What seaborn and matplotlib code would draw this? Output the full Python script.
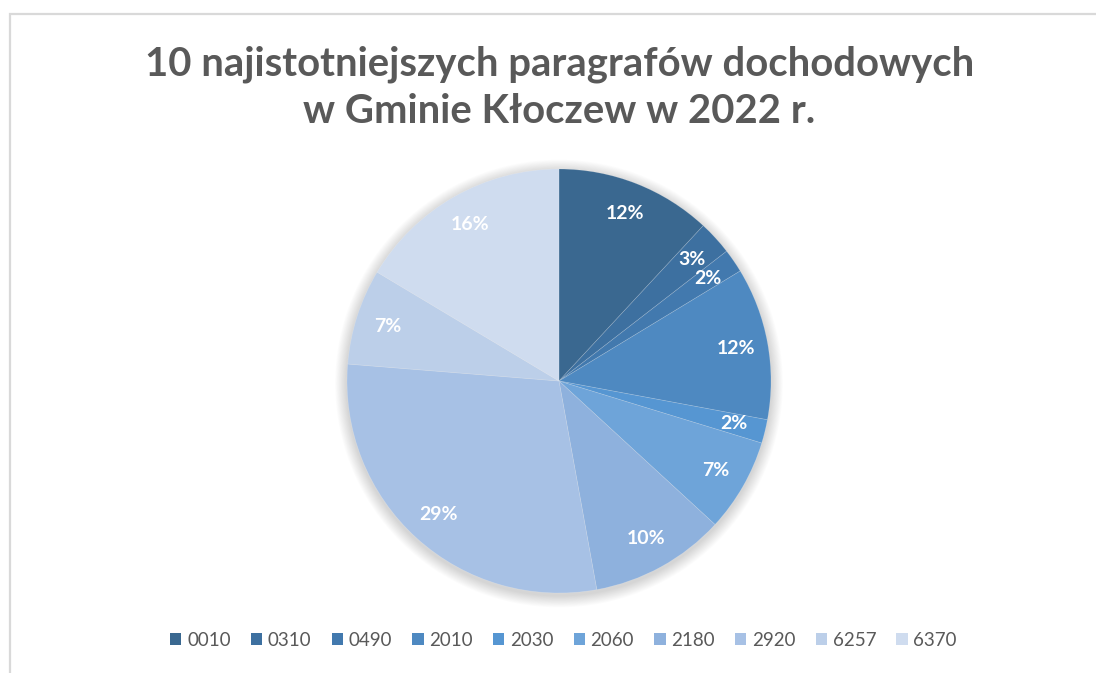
import matplotlib
matplotlib.use("Agg")
import matplotlib.pyplot as plt
from matplotlib.patches import Circle, Rectangle
import seaborn as sns

# Data
paragraphs = ['0010', '0310', '0490', '2010', '2030', '2060', '2180', '2920', '6257', '6370']
shares = [11.9, 2.6, 1.8, 11.6, 1.8, 7.1, 10.3, 29.1, 7.3, 16.4]
slice_colors = ['#3A6890', '#3D70A0', '#4279AE', '#4E89C1', '#5696D2', '#6EA4D9',
                '#8EB1DD', '#A7C1E5', '#BCCFE9', '#CFDCEF']
title_text = '10 najistotniejszych paragrafów dochodowych\nw Gminie Kłoczew w 2022 r.'

sns.set_theme(style='white')
plt.rcParams['font.family'] = ['Lato', 'DejaVu Sans']

W, H = 1096, 673
fig = plt.figure(figsize=(W / 100, H / 100), dpi=100)
fig.patch.set_facecolor('white')

# chart frame (only top and left edges visible)
fig.patches.append(Rectangle((10 / W, -0.1), 1.2, (H - 14) / H + 0.1,
                             transform=fig.transFigure, fill=False,
                             edgecolor='#D9D9D9', linewidth=1.6))

# pie axes: centre (559, 381), radius 212 px
cx, cy, r = 559, 381, 212
ax = fig.add_axes([(cx - r) / W, (H - cy - r) / H, 2 * r / W, 2 * r / H])

# soft shadow
for i in range(14):
    ax.add_patch(Circle((0, -0.012), 1.0 + 0.004 * (14 - i), color='black',
                        alpha=0.012, linewidth=0, zorder=0, clip_on=False))

wedges, texts, autotexts = ax.pie(
    shares, colors=slice_colors, startangle=90, counterclock=False,
    autopct='%.0f%%', pctdistance=0.85, radius=1.0,
    wedgeprops={'linewidth': 0.5, 'edgecolor': (1, 1, 1, 0.2)},
    textprops={'color': 'white', 'fontsize': 14, 'fontweight': 'bold'})
for w in wedges:
    w.set_zorder(2)
for t in autotexts:
    t.set_zorder(3)

ax.set_xlim(-1, 1)
ax.set_ylim(-1, 1)
ax.set_aspect('equal')
ax.axis('off')

fig.text(559.5 / W, 1 - 88 / H, title_text, ha='center', va='center',
         fontsize=28.8, fontweight='bold', color='#595959', linespacing=1.32)

handles = [Rectangle((0, 0), 1, 1, facecolor=c, edgecolor='none') for c in slice_colors]
leg = fig.legend(handles, paragraphs, loc='center', bbox_to_anchor=(563.5 / W, 1 - 640 / H),
                 ncol=len(paragraphs), frameon=False, fontsize=13.5,
                 handlelength=0.6, handleheight=0.6, handletextpad=0.3,
                 columnspacing=1.08)
for t in leg.get_texts():
    t.set_color('#595959')

fig.savefig('out.png', dpi=100)
